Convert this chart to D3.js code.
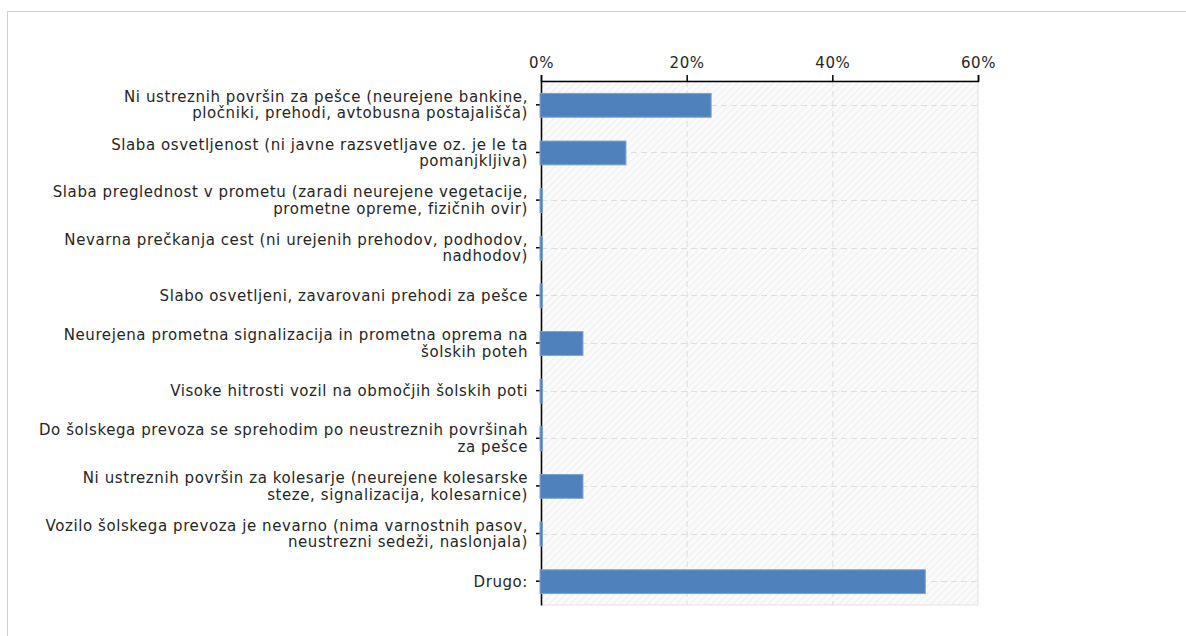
<!DOCTYPE html>
<html>
<head>
<meta charset="utf-8">
<script src="https://cdn.jsdelivr.net/npm/d3@7"></script>
<style>
  body { margin: 0; background: #fff; }
  svg { display: block; font-family: "DejaVu Sans", Verdana, sans-serif; }
</style>
</head>
<body>
<div id="chart"></div>
<script>
// answers (multi-line labels split on \n)
const categories = [
  "Ni ustreznih površin za pešce (neurejene bankine,\npločniki, prehodi, avtobusna postajališča)",
  "Slaba osvetljenost (ni javne razsvetljave oz. je le ta\npomanjkljiva)",
  "Slaba preglednost v prometu (zaradi neurejene vegetacije,\nprometne opreme, fizičnih ovir)",
  "Nevarna prečkanja cest (ni urejenih prehodov, podhodov,\nnadhodov)",
  "Slabo osvetljeni, zavarovani prehodi za pešce",
  "Neurejena prometna signalizacija in prometna oprema na\nšolskih poteh",
  "Visoke hitrosti vozil na območjih šolskih poti",
  "Do šolskega prevoza se sprehodim po neustreznih površinah\nza pešce",
  "Ni ustreznih površin za kolesarje (neurejene kolesarske\nsteze, signalizacija, kolesarnice)",
  "Vozilo šolskega prevoza je nevarno (nima varnostnih pasov,\nneustrezni sedeži, naslonjala)",
  "Drugo:"
];
const values = [23.5, 11.8, 0, 0, 0, 5.9, 0, 0, 5.9, 0, 52.9];
const xTicks = [0, 20, 40, 60];

const W = 1186, H = 636;
const margin = {top: 81, right: 208, bottom: 31, left: 541};
const width = W - margin.left - margin.right,
      height = H - margin.top - margin.bottom;
const fontSize = 15, letterSp = 0.58, lineH = 16.5;

const svg = d3.select("#chart").append("svg")
    .attr("width", W)
    .attr("height", H);

// outer frame
svg.append("rect")
    .attr("x", 7.5).attr("y", 11.5)
    .attr("width", W + 20).attr("height", H + 20)
    .attr("fill", "none")
    .attr("stroke", "#d0d0d0");

const defs = svg.append("defs");
const pat = defs.append("pattern")
    .attr("id", "hatch")
    .attr("patternUnits", "userSpaceOnUse")
    .attr("width", 5).attr("height", 5)
    .attr("patternTransform", "rotate(45)");
pat.append("rect").attr("width", 5).attr("height", 5).attr("fill", "#fafafa");
pat.append("line")
    .attr("x1", 0).attr("y1", 0).attr("x2", 0).attr("y2", 5)
    .attr("stroke", "#ececec").attr("stroke-width", 1.5);

const g = svg.append("g").attr("transform", `translate(${margin.left},${margin.top})`);

const x = d3.scaleLinear().domain([0, 60]).range([0, width]);
const y = d3.scaleBand().domain(categories).range([0, height])
    .paddingInner(0.5).paddingOuter(0.25);

// plot background
g.append("rect")
    .attr("width", width).attr("height", height)
    .attr("fill", "url(#hatch)")
    .attr("stroke", "#e2e2e2");

// grid
g.append("g").selectAll("line")
    .data(xTicks.slice(1, -1))
    .join("line")
    .attr("x1", d => x(d) + 0.5).attr("x2", d => x(d) + 0.5)
    .attr("y1", 0).attr("y2", height)
    .attr("stroke", "#dedede")
    .attr("stroke-dasharray", "6,4");
g.append("g").selectAll("line")
    .data(categories)
    .join("line")
    .attr("x1", 0).attr("x2", width)
    .attr("y1", d => Math.round(y(d) + y.bandwidth() / 2) + 0.5)
    .attr("y2", d => Math.round(y(d) + y.bandwidth() / 2) + 0.5)
    .attr("stroke", "#dedede")
    .attr("stroke-dasharray", "6,4");

// top axis
const xAxis = g.append("g")
    .call(d3.axisTop(x).tickValues(xTicks).tickFormat(d => d + "%").tickSize(6).tickPadding(7));
xAxis.select(".domain").attr("stroke", "#000").attr("stroke-width", 1.5);
xAxis.selectAll(".tick line").attr("stroke", "#000").attr("stroke-width", 1.5);
xAxis.selectAll("text").attr("font-size", fontSize).attr("fill", "#262626")
    .attr("letter-spacing", letterSp)
    .attr("font-family", "DejaVu Sans, Verdana, sans-serif");

// left axis
const yAxis = g.append("g")
    .call(d3.axisLeft(y).tickSize(5).tickSizeOuter(0).tickPadding(9));
yAxis.select(".domain").attr("stroke", "#000").attr("stroke-width", 1.5);
yAxis.selectAll(".tick line").attr("stroke", "#000").attr("stroke-width", 1.5);
yAxis.selectAll(".tick text")
    .attr("font-size", fontSize).attr("fill", "#262626")
    .attr("letter-spacing", letterSp)
    .attr("font-family", "DejaVu Sans, Verdana, sans-serif")
    .each(function(d) {
        const lines = d.split("\n");
        const t = d3.select(this).text(null).attr("dy", null);
        const y0 = -(lines.length - 1) * lineH / 2 + fontSize * 0.36;
        lines.forEach((ln, i) => {
            t.append("tspan")
                .attr("x", -13)
                .attr("y", y0 + i * lineH)
                .text(ln);
        });
    });

// bars (drawn over the axis line, as in the original)
g.append("g").selectAll("rect")
    .data(values)
    .join("rect")
    .attr("x", x(0) - 1)
    .attr("y", (d, i) => y(categories[i]) + 0.5)
    .attr("width", d => Math.max(x(d) - x(0), 2.5))
    .attr("height", y.bandwidth())
    .attr("fill", "#4f81bd")
    .attr("stroke", "#7ea3d3")
    .attr("stroke-width", 1);
</script>
</body>
</html>
